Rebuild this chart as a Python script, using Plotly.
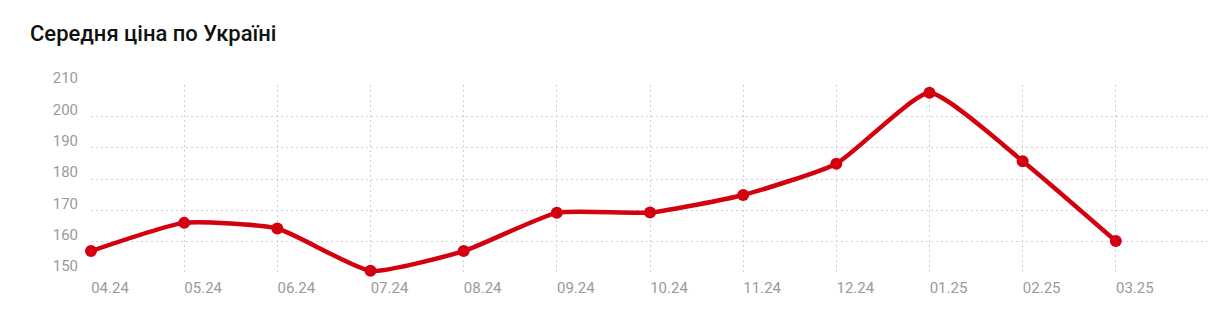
import plotly.graph_objects as go

months = ["04.24", "05.24", "06.24", "07.24", "08.24", "09.24", "10.24", "11.24", "12.24", "01.25", "02.25", "03.25"]
prices = [157.0, 166.0, 164.2, 150.7, 157.0, 169.2, 169.3, 174.9, 184.9, 207.5, 185.7, 160.2]
y_ticks = [150, 160, 170, 180, 190, 200, 210]

x_idx = list(range(len(months)))

fig = go.Figure()
fig.add_trace(go.Scatter(
    x=x_idx, y=prices, mode="lines+markers",
    line=dict(color="#d3000f", width=4.5, shape="spline", smoothing=0.5),
    marker=dict(color="#d3000f", size=12),
    cliponaxis=False, hoverinfo="skip",
))

fig.update_layout(
    width=1230, height=327,
    margin=dict(l=91, r=21, t=85, b=54),
    paper_bgcolor="white", plot_bgcolor="white",
    showlegend=False,
    font=dict(family="Roboto", color="#9a9a9a", size=15),
    title=dict(text="Середня ціна по Україні", x=30 / 1230, xanchor="left", xref="container",
               y=1 - 33 / 327, yanchor="middle", yref="container",
               font=dict(family="Roboto", size=22, color="#111111", weight=500)),
)
fig.update_xaxes(
    range=[0, 12], tickvals=x_idx, ticktext=months,
    showgrid=True, gridcolor="#cfcfcf", griddash="2px,3px", gridwidth=1,
    zeroline=False, showline=False, ticks="",
    ticklabelshift=19, ticklabelstandoff=4,
    tickfont=dict(size=15, color="#9a9a9a"),
)
fig.update_yaxes(
    range=[150, 210], tickvals=y_ticks,
    showgrid=True, gridcolor="#cfcfcf", griddash="2px,3px", gridwidth=1,
    zeroline=False, showline=False, ticks="",
    ticklabelshift=-7, ticklabelstandoff=12,
    tickfont=dict(size=15, color="#9a9a9a"),
)

fig.write_html("out.html")
